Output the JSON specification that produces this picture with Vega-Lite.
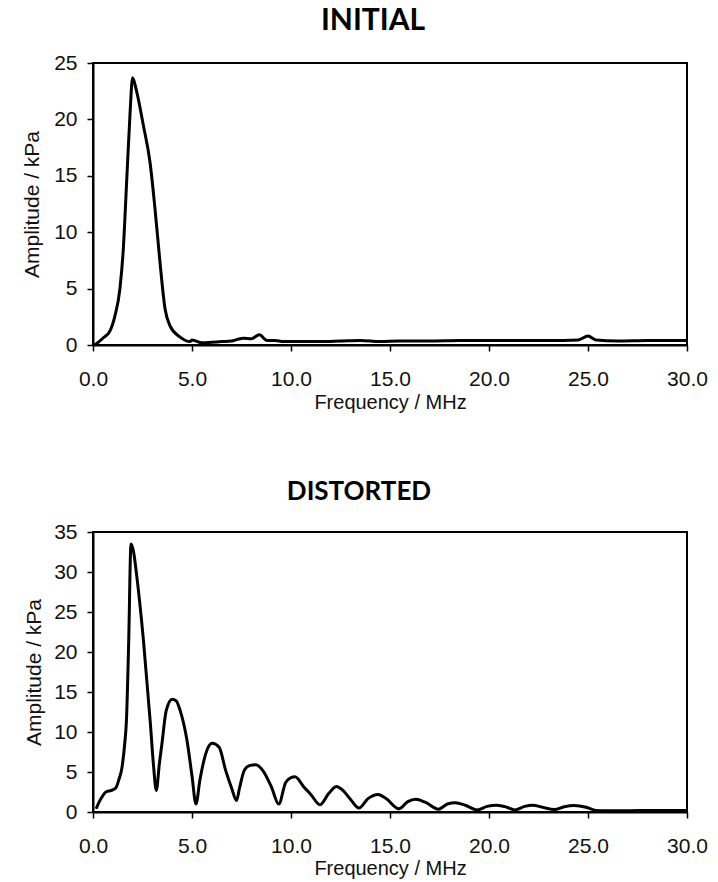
{
  "$schema": "https://vega.github.io/schema/vega-lite/v6.json",
  "autosize": {"type": "none"},
  "padding": {"left": 93, "top": 63, "right": 625, "bottom": 819},
  "background": "white",
  "bounds": "flush",
  "spacing": 187,
  "datasets": {
    "initial": [
      {"f": 0.1, "a": 0}, {"f": 0.5, "a": 0.6}, {"f": 0.86, "a": 1.25}, {"f": 1.11, "a": 2.6},
      {"f": 1.36, "a": 5.0}, {"f": 1.53, "a": 8.5}, {"f": 1.7, "a": 14.5}, {"f": 1.87, "a": 20.5},
      {"f": 2.0, "a": 23.7}, {"f": 2.2, "a": 22.5}, {"f": 2.54, "a": 19.5}, {"f": 2.88, "a": 16.2},
      {"f": 3.13, "a": 12.1}, {"f": 3.38, "a": 7.4}, {"f": 3.64, "a": 3.2}, {"f": 3.89, "a": 1.7},
      {"f": 4.4, "a": 0.7}, {"f": 4.9, "a": 0.3}, {"f": 5.0, "a": 0.45}, {"f": 5.5, "a": 0.2},
      {"f": 6.0, "a": 0.25}, {"f": 6.5, "a": 0.3}, {"f": 7.0, "a": 0.35}, {"f": 7.3, "a": 0.5},
      {"f": 7.6, "a": 0.6}, {"f": 8.0, "a": 0.55}, {"f": 8.4, "a": 0.9}, {"f": 8.8, "a": 0.4},
      {"f": 9.2, "a": 0.4}, {"f": 9.6, "a": 0.3}, {"f": 10.5, "a": 0.3}, {"f": 11.5, "a": 0.3},
      {"f": 12.5, "a": 0.35}, {"f": 13.5, "a": 0.4}, {"f": 14.5, "a": 0.3}, {"f": 15.5, "a": 0.35},
      {"f": 17.0, "a": 0.35}, {"f": 18.5, "a": 0.4}, {"f": 20.0, "a": 0.4}, {"f": 21.5, "a": 0.4},
      {"f": 23.0, "a": 0.4}, {"f": 24.5, "a": 0.45}, {"f": 25.0, "a": 0.8}, {"f": 25.4, "a": 0.45},
      {"f": 26.5, "a": 0.35}, {"f": 28.0, "a": 0.4}, {"f": 30.0, "a": 0.4}
    ],
    "distorted": [
      {"f": 0.16, "a": 0.4}, {"f": 0.3, "a": 1.2}, {"f": 0.46, "a": 1.9}, {"f": 0.65, "a": 2.5},
      {"f": 0.93, "a": 2.7}, {"f": 1.15, "a": 3.0}, {"f": 1.3, "a": 4.0}, {"f": 1.46, "a": 5.5},
      {"f": 1.6, "a": 8.5}, {"f": 1.69, "a": 11.5}, {"f": 1.8, "a": 21}, {"f": 1.92, "a": 33.5},
      {"f": 2.05, "a": 32.5}, {"f": 2.2, "a": 29.7}, {"f": 2.55, "a": 21.4}, {"f": 2.9, "a": 11},
      {"f": 3.05, "a": 6}, {"f": 3.2, "a": 2.7}, {"f": 3.35, "a": 6}, {"f": 3.48, "a": 8.5},
      {"f": 3.7, "a": 12.7}, {"f": 4.0, "a": 14.1}, {"f": 4.2, "a": 13.9}, {"f": 4.4, "a": 12.7},
      {"f": 4.75, "a": 8.9}, {"f": 5.0, "a": 4.5}, {"f": 5.2, "a": 1.0}, {"f": 5.4, "a": 4},
      {"f": 5.56, "a": 6.0}, {"f": 5.8, "a": 8.0}, {"f": 6.02, "a": 8.6}, {"f": 6.37, "a": 8.1},
      {"f": 6.7, "a": 5.2}, {"f": 7.0, "a": 3}, {"f": 7.25, "a": 1.45}, {"f": 7.4, "a": 3},
      {"f": 7.64, "a": 5.2}, {"f": 7.9, "a": 5.8}, {"f": 8.22, "a": 5.9}, {"f": 8.57, "a": 5.2},
      {"f": 9.0, "a": 3.2}, {"f": 9.38, "a": 1.0}, {"f": 9.73, "a": 3.7}, {"f": 10.0, "a": 4.3},
      {"f": 10.2, "a": 4.4}, {"f": 10.66, "a": 3.1}, {"f": 11.0, "a": 2.2}, {"f": 11.47, "a": 0.9},
      {"f": 11.9, "a": 2.3}, {"f": 12.3, "a": 3.2}, {"f": 12.62, "a": 2.7}, {"f": 13.0, "a": 1.6},
      {"f": 13.43, "a": 0.5}, {"f": 13.9, "a": 1.7}, {"f": 14.4, "a": 2.2}, {"f": 14.8, "a": 1.7},
      {"f": 15.45, "a": 0.4}, {"f": 15.9, "a": 1.3}, {"f": 16.3, "a": 1.6}, {"f": 16.8, "a": 1.2},
      {"f": 17.45, "a": 0.35}, {"f": 17.9, "a": 1.0}, {"f": 18.3, "a": 1.15}, {"f": 18.8, "a": 0.85},
      {"f": 19.4, "a": 0.25}, {"f": 19.9, "a": 0.7}, {"f": 20.4, "a": 0.85}, {"f": 20.9, "a": 0.6},
      {"f": 21.3, "a": 0.25}, {"f": 21.8, "a": 0.7}, {"f": 22.2, "a": 0.85}, {"f": 22.7, "a": 0.6},
      {"f": 23.3, "a": 0.3}, {"f": 23.8, "a": 0.65}, {"f": 24.3, "a": 0.8}, {"f": 24.9, "a": 0.6},
      {"f": 25.4, "a": 0.2}, {"f": 26.0, "a": 0.15}, {"f": 27.0, "a": 0.15}, {"f": 28.0, "a": 0.2},
      {"f": 29.0, "a": 0.2}, {"f": 30.0, "a": 0.2}
    ]
  },
  "config": {
    "view": {"stroke": "black", "strokeWidth": 2},
    "axis": {
      "domainColor": "black", "domainWidth": 2, "tickColor": "black", "tickWidth": 1.5, "tickSize": 6,
      "grid": false, "labelFont": "Liberation Sans", "labelFontSize": 21, "labelColor": "#111", "labelFlush": false,
      "titleFont": "Liberation Sans", "titleFontSize": 20, "titleFontWeight": "normal", "titleColor": "#111"
    },
    "title": {"font": "Lato", "fontWeight": "bold", "color": "black"}
  },
  "vconcat": [
    {
      "width": 594, "height": 282,
      "data": {"name": "initial"},
      "title": {"text": "INITIAL", "fontSize": 30, "anchor": "middle", "frame": "group", "dx": -17, "baseline": "alphabetic", "offset": -8},
      "mark": {"type": "line", "color": "black", "strokeWidth": 3, "interpolate": "monotone"},
      "encoding": {
        "x": {"field": "f", "type": "quantitative", "scale": {"domain": [0, 30], "nice": false},
          "axis": {"values": [0, 5, 10, 15, 20, 25, 30], "format": ".1f", "title": "Frequency / MHz",
            "labelBaseline": "alphabetic", "labelPadding": 34, "titleY": 63, "titleBaseline": "alphabetic"}},
        "y": {"field": "a", "type": "quantitative", "scale": {"domain": [0, 25], "nice": false},
          "axis": {"values": [0, 5, 10, 15, 20, 25], "title": "Amplitude / kPa", "labelPadding": 10,
            "titleX": -61, "titleBaseline": "middle", "titleFontSize": 21}}
      }
    },
    {
      "width": 594, "height": 280,
      "data": {"name": "distorted"},
      "title": {"text": "DISTORTED", "fontSize": 26, "anchor": "middle", "frame": "group", "dx": -31, "baseline": "alphabetic", "offset": -5},
      "mark": {"type": "line", "color": "black", "strokeWidth": 3, "interpolate": "monotone"},
      "encoding": {
        "x": {"field": "f", "type": "quantitative", "scale": {"domain": [0, 30], "nice": false},
          "axis": {"values": [0, 5, 10, 15, 20, 25, 30], "format": ".1f", "title": "Frequency / MHz",
            "labelBaseline": "alphabetic", "labelPadding": 34, "titleY": 62, "titleBaseline": "alphabetic"}},
        "y": {"field": "a", "type": "quantitative", "scale": {"domain": [0, 35], "nice": false},
          "axis": {"values": [0, 5, 10, 15, 20, 25, 30, 35], "title": "Amplitude / kPa", "labelPadding": 10,
            "titleX": -59, "titleBaseline": "middle", "titleFontSize": 21}}
      }
    }
  ]
}
